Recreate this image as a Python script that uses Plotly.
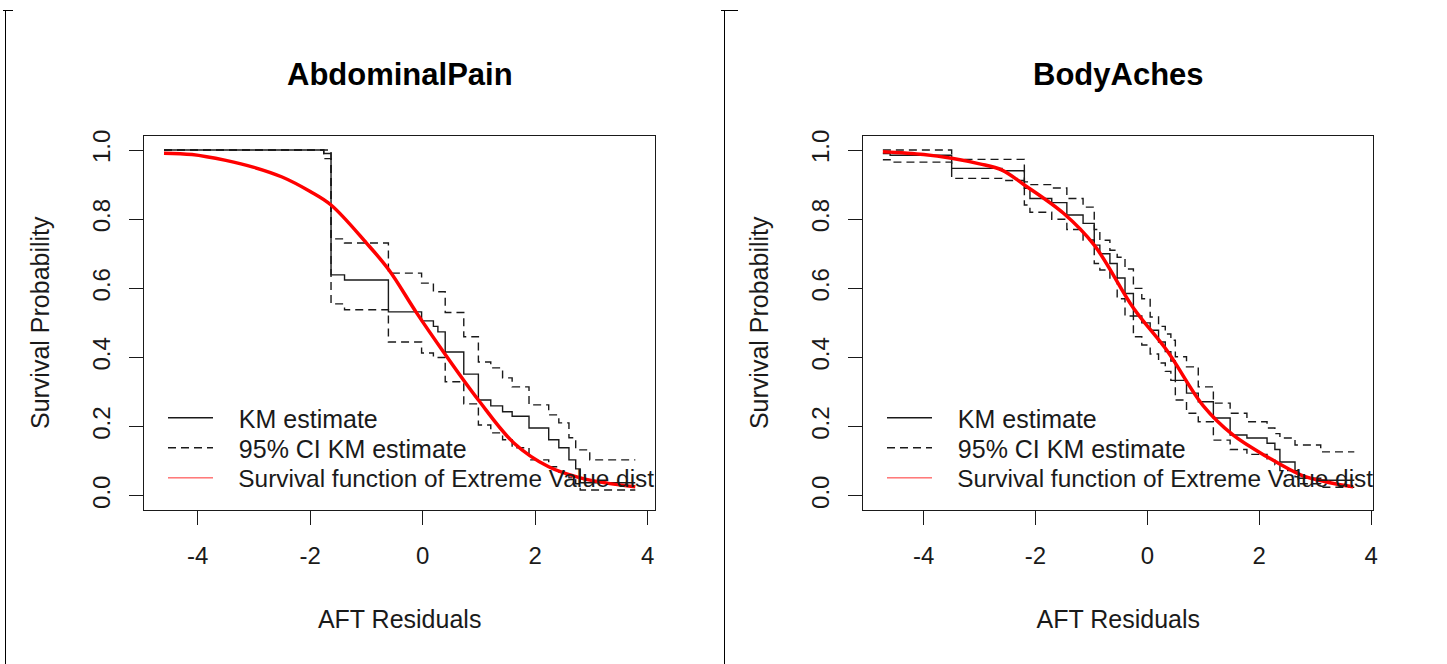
import plotly.graph_objects as go

# ---- AbdominalPain: Kaplan-Meier steps on AFT residuals ----
ap_time = [-4.60, -1.76, -1.63, -1.39, -0.61, -0.02, 0.19, 0.27, 0.40, 0.73,
           0.99, 1.21, 1.42, 1.59, 1.89, 2.24, 2.42, 2.60, 2.72, 2.80, 2.97]
ap_end = 3.78
ap_km = [1.000, 0.990, 0.639, 0.624, 0.532, 0.506, 0.490, 0.474, 0.416, 0.352,
         0.277, 0.260, 0.243, 0.230, 0.196, 0.162, 0.139, 0.104, 0.078, 0.038, 0.038]
ap_upper = [1.000, 1.000, 0.743, 0.731, 0.644, 0.615, 0.590, 0.590, 0.530, 0.460,
            0.387, 0.370, 0.341, 0.315, 0.263, 0.234, 0.211, 0.168, 0.133, 0.133, 0.104]
ap_lower = [1.000, 0.975, 0.555, 0.538, 0.445, 0.413, 0.400, 0.400, 0.330, 0.266,
            0.205, 0.182, 0.162, 0.139, 0.104, 0.084, 0.069, 0.052, 0.035, 0.017, 0.017]
# fitted extreme value survival curve
ap_fit_x = [-4.60, -4.10, -3.50, -3.00, -2.50, -2.00, -1.63, -1.00, -0.60, -0.12,
            0.37, 0.99, 1.62, 2.24, 2.80, 3.30, 3.78]
ap_fit_s = [0.991, 0.987, 0.970, 0.950, 0.922, 0.880, 0.841, 0.731, 0.653, 0.532,
            0.416, 0.277, 0.153, 0.084, 0.052, 0.036, 0.026]

# ---- BodyAches ----
ba_time = [-4.73, -4.60, -3.50, -2.60, -2.20, -2.10, -1.71, -1.44, -1.15, -0.95,
           -0.85, -0.67, -0.54, -0.40, -0.25, -0.10, 0.05, 0.20, 0.32, 0.42,
           0.50, 0.70, 0.91, 1.18, 1.48, 1.78, 2.14, 2.28, 2.37, 2.64, 2.70, 3.10]
ba_end = 3.70
ba_km = [0.990, 0.985, 0.947, 0.940, 0.889, 0.860, 0.848, 0.812, 0.788, 0.725,
         0.700, 0.672, 0.630, 0.585, 0.520, 0.500, 0.479, 0.445, 0.417, 0.390,
         0.334, 0.297, 0.272, 0.225, 0.176, 0.167, 0.152, 0.134, 0.098, 0.073, 0.051, 0.045]
ba_upper = [1.000, 1.000, 0.973, 0.973, 0.908, 0.900, 0.890, 0.860, 0.835, 0.770,
            0.739, 0.710, 0.690, 0.656, 0.600, 0.570, 0.517, 0.490, 0.468, 0.450,
            0.402, 0.373, 0.315, 0.268, 0.239, 0.214, 0.196, 0.180, 0.167, 0.147, 0.147, 0.127]
ba_lower = [0.972, 0.965, 0.918, 0.912, 0.841, 0.820, 0.800, 0.770, 0.740, 0.672,
            0.653, 0.630, 0.570, 0.520, 0.460, 0.436, 0.410, 0.384, 0.360, 0.334,
            0.277, 0.239, 0.214, 0.161, 0.134, 0.120, 0.103, 0.090, 0.073, 0.055, 0.035, 0.025]
ba_fit_x = [-4.73, -4.00, -3.50, -3.00, -2.60, -2.20, -1.50, -0.95, -0.25, 0.35,
            1.00, 1.53, 2.14, 2.75, 3.20, 3.68]
ba_fit_s = [0.995, 0.987, 0.976, 0.960, 0.942, 0.899, 0.817, 0.725, 0.543, 0.420,
            0.260, 0.176, 0.113, 0.060, 0.040, 0.026]

x_ticks = [-4, -2, 0, 2, 4]
x_tick_text = ["-4", "-2", "0", "2", "4"]
y_ticks = [0, 0.2, 0.4, 0.6, 0.8, 1.0]
y_tick_text = ["0.0", "0.2", "0.4", "0.6", "0.8", "1.0"]
legend_labels = ["KM estimate", "95% CI KM estimate",
                 "Survival function of Extreme Value dist"]

W, H = 1447, 664
panels = [
    dict(name="AbdominalPain", t=ap_time, end=ap_end, km=ap_km, up=ap_upper, lo=ap_lower,
         fx=ap_fit_x, fs=ap_fit_s, xr=[-4.95, 4.13], dom=[144.3 / W, 655 / W], key_x=163),
    dict(name="BodyAches", t=ba_time, end=ba_end, km=ba_km, up=ba_upper, lo=ba_lower,
         fx=ba_fit_x, fs=ba_fit_s, xr=[-5.08, 4.04], dom=[863.3 / W, 1373.3 / W], key_x=882),
]

FONT = "Liberation Sans, Arial, sans-serif"
INK = "#1a1a1a"
DASH = "8px,5px"
GAP = "\u00a0\u00a0\u00a0"   # spacing between key line and label
KEY_ROWS = [418, 448, 478]
KEY_SIZES = [25, 25, 24.4]    # last label kept inside the plot frame

fig = go.Figure()
layout = {}
annotations = []


def step(vals):
    return vals + [vals[-1]]


for i, p in enumerate(panels):
    n = "" if i == 0 else str(i + 1)
    xa, ya = "x" + n, "y" + n
    xs = p["t"] + [p["end"]]
    lg = ["legend%s" % ("" if 3 * i + k == 0 else 3 * i + k + 1) for k in range(3)]

    fig.add_trace(go.Scatter(x=xs, y=step(p["km"]), mode="lines", line_shape="hv",
                             line=dict(color=INK, width=1.4), name=GAP + legend_labels[0],
                             legend=lg[0], xaxis=xa, yaxis=ya))
    fig.add_trace(go.Scatter(x=xs, y=step(p["up"]), mode="lines", line_shape="hv",
                             line=dict(color=INK, width=1.4, dash=DASH),
                             name=GAP + legend_labels[1], legend=lg[1],
                             xaxis=xa, yaxis=ya))
    fig.add_trace(go.Scatter(x=xs, y=step(p["lo"]), mode="lines", line_shape="hv",
                             line=dict(color=INK, width=1.4, dash=DASH),
                             showlegend=False, xaxis=xa, yaxis=ya))
    fig.add_trace(go.Scatter(x=p["fx"], y=p["fs"], mode="lines", line_shape="spline",
                             line=dict(color="#ff0000", width=3.5), showlegend=False,
                             xaxis=xa, yaxis=ya))
    # thin red key entry for the legend
    fig.add_trace(go.Scatter(x=[None], y=[None], mode="lines",
                             line=dict(color="#ff3030", width=1),
                             name=GAP + legend_labels[2],
                             legend=lg[2], xaxis=xa, yaxis=ya))

    for k in range(3):
        layout[lg[k]] = dict(font=dict(family=FONT, size=KEY_SIZES[k], color=INK),
                             bgcolor="rgba(0,0,0,0)", borderwidth=0,
                             yanchor="middle", xanchor="left", itemwidth=45,
                             x=p["key_x"] / W, y=1 - KEY_ROWS[k] / H)

    common = dict(showline=True, mirror=True, linecolor=INK, linewidth=1.2,
                  ticks="outside", ticklen=14, tickwidth=1.2, tickcolor=INK,
                  showgrid=False, zeroline=False, automargin=False,
                  tickfont=dict(family=FONT, size=24, color=INK))
    layout["xaxis" + n] = dict(common, domain=p["dom"], range=p["xr"],
                               tickvals=x_ticks, ticktext=x_tick_text, anchor=ya,
                               ticklabelstandoff=10,
                               title=dict(text="AFT Residuals", standoff=42,
                                          font=dict(family=FONT, size=25, color=INK)))
    layout["yaxis" + n] = dict(common, domain=[1 - 510 / H, 1 - 135.5 / H],
                               range=[-0.041, 1.042],
                               tickvals=y_ticks, ticktext=y_tick_text,
                               tickangle=-90, anchor=xa, ticklabelstandoff=10,
                               title=dict(text="Survival Probability", standoff=30,
                                          font=dict(family=FONT, size=25, color=INK)))
    annotations.append(dict(text="<b>%s</b>" % p["name"], xref="paper", yref="paper",
                            x=(p["dom"][0] + p["dom"][1]) / 2, y=1 - 75 / H,
                            xanchor="center", yanchor="middle", showarrow=False,
                            font=dict(family=FONT, size=31, color="#000")))

# panel frame marks
frame = dict(color="#000", width=1)
shapes = [
    dict(type="line", xref="paper", yref="paper", x0=5.5 / W, x1=5.5 / W,
         y0=0, y1=1 - 10.5 / H, line=frame),
    dict(type="line", xref="paper", yref="paper", x0=3 / W, x1=13 / W,
         y0=1 - 10.5 / H, y1=1 - 10.5 / H, line=frame),
    dict(type="line", xref="paper", yref="paper", x0=724.5 / W, x1=724.5 / W,
         y0=0, y1=1 - 10.5 / H, line=frame),
    dict(type="line", xref="paper", yref="paper", x0=721 / W, x1=738 / W,
         y0=1 - 10.5 / H, y1=1 - 10.5 / H, line=frame),
]

fig.update_layout(
    width=W, height=H,
    margin=dict(l=0, r=0, t=0, b=0, pad=0),
    paper_bgcolor="white", plot_bgcolor="white",
    font=dict(family=FONT, color=INK),
    annotations=annotations,
    shapes=shapes,
    **layout,
)

fig.write_html("out.html")
